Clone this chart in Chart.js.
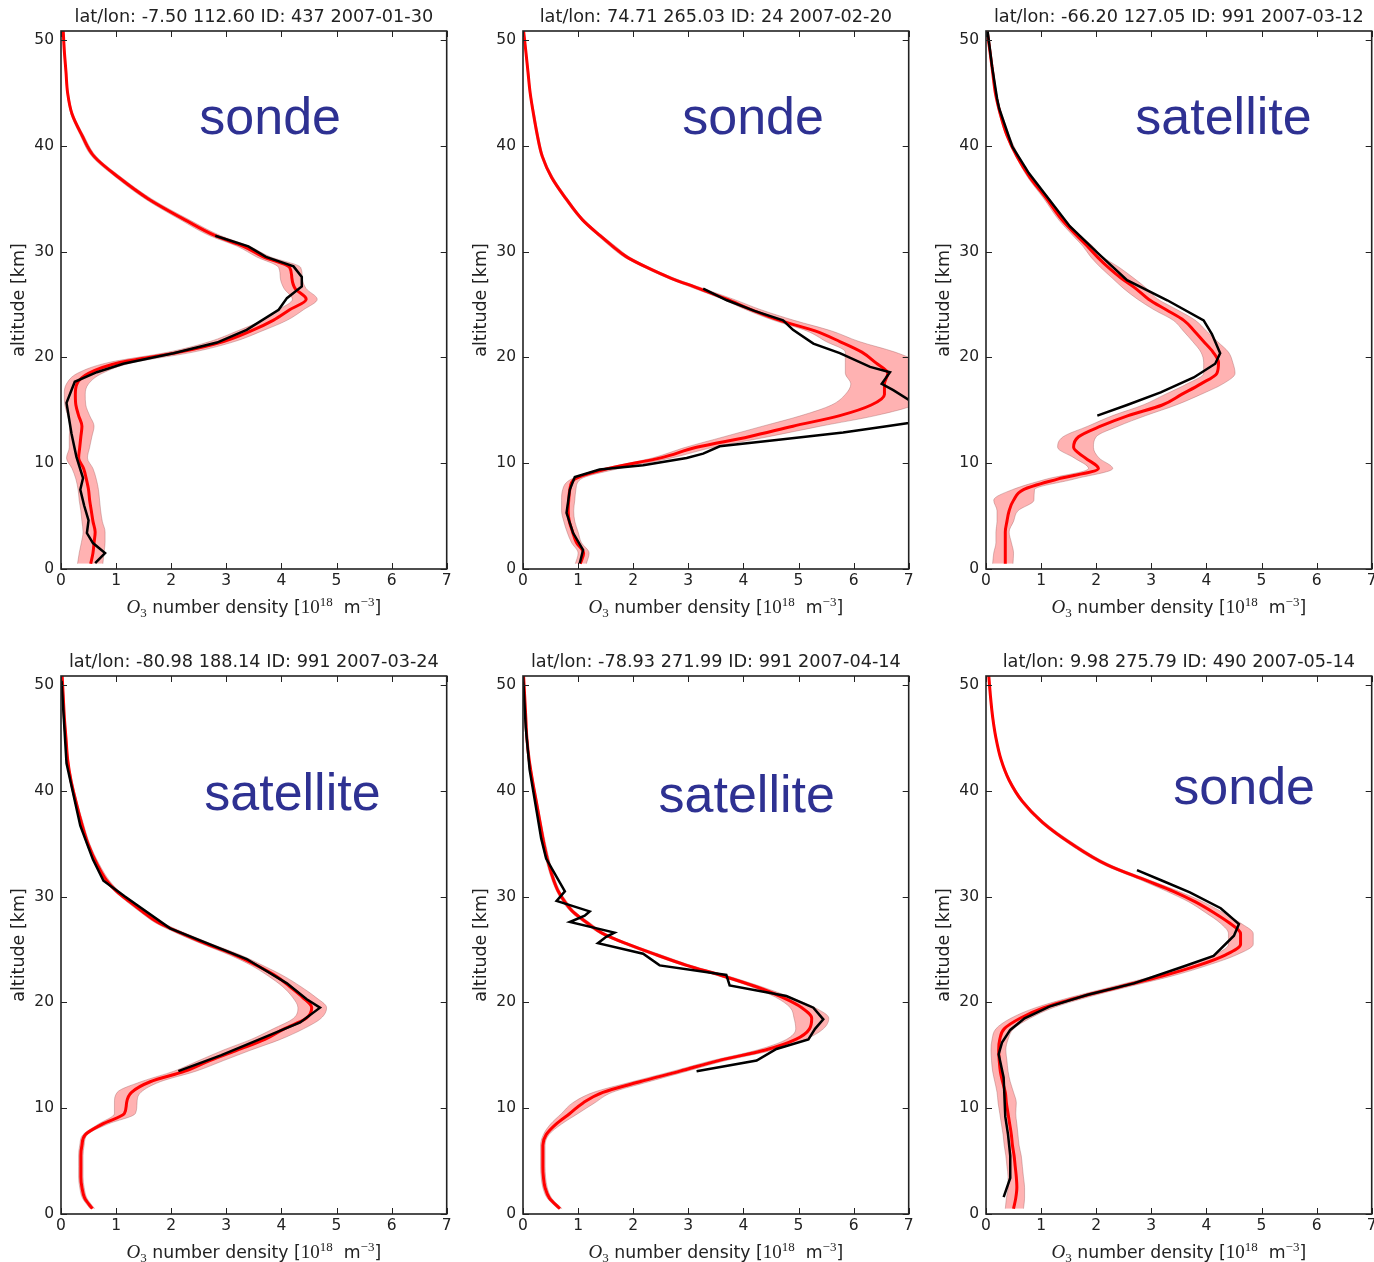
<!DOCTYPE html>
<html>
<head>
<meta charset="utf-8">
<script src="https://cdn.jsdelivr.net/npm/chart.js@4.4.1/dist/chart.umd.min.js"></script>
<style>
  html, body { margin: 0; padding: 0; background: #fff; overflow: hidden; width: 1374px; height: 1262px; position: relative; }
  canvas { position: absolute; }
</style>
</head>
<body>
<canvas id="c0" width="462" height="645" style="left:0px;top:0px"></canvas>
<canvas id="c1" width="462" height="645" style="left:462px;top:0px"></canvas>
<canvas id="c2" width="462" height="645" style="left:925px;top:0px"></canvas>
<canvas id="c3" width="462" height="645" style="left:0px;top:645px"></canvas>
<canvas id="c4" width="462" height="645" style="left:462px;top:645px"></canvas>
<canvas id="c5" width="462" height="645" style="left:925px;top:645px"></canvas>
<script>
// ========== DATA ==========
// altitude grid (km) shared by retrieved profile and its error band
const ALT = [0.5, 1.5, 2.5, 3.5, 4.5, 5.5, 6.5, 7.5, 8.5, 9.5, 10.5, 11.5, 12.5, 13.5, 14.5, 15.5, 16.5, 17.5,
  18.5, 19.5, 20.5, 21.5, 22.5, 23.5, 24.5, 25.5, 26.5, 27.5, 28.5, 29.5, 30.5, 31.5, 33, 35, 37, 39, 41, 43, 45, 47, 49, 50.9];

const TITLES = [
  'lat/lon: -7.50 112.60 ID: 437 2007-01-30',
  'lat/lon: 74.71 265.03 ID: 24 2007-02-20',
  'lat/lon: -66.20 127.05 ID: 991 2007-03-12',
  'lat/lon: -80.98 188.14 ID: 991 2007-03-24',
  'lat/lon: -78.93 271.99 ID: 991 2007-04-14',
  'lat/lon: 9.98 275.79 ID: 490 2007-05-14'
];
const TAGS = ['sonde', 'sonde', 'satellite', 'satellite', 'satellite', 'sonde'];
const TAG_X = [2.51, 2.89, 2.71, 2.60, 2.46, 3.40];
const TAG_ALT = [41.1, 41.1, 41.1, 38.2, 38.0, 38.75];

const X_TICKS = [0, 1, 2, 3, 4, 5, 6, 7];
const Y_TICKS = [0, 10, 20, 30, 40, 50];

// panel 1
const red1 = [0.54, 0.58, 0.60, 0.62, 0.58, 0.55, 0.52, 0.50, 0.46, 0.41, 0.32, 0.34, 0.36, 0.38, 0.32, 0.27, 0.26, 0.29,
  0.50, 1.05, 2.15, 2.95, 3.45, 3.85, 4.15, 4.45, 4.25, 4.19, 4.15, 3.67, 3.31, 2.80, 2.25, 1.58, 1.05, 0.60, 0.38, 0.20, 0.12, 0.09, 0.06, 0.04];
const lo1 = [0.30, 0.33, 0.37, 0.40, 0.38, 0.36, 0.33, 0.31, 0.27, 0.20, 0.10, 0.15, 0.15, 0.16, 0.12, 0.07, 0.06, 0.10,
  0.30, 0.85, 1.95, 2.70, 3.20, 3.65, 3.95, 4.20, 4.05, 3.98, 3.95, 3.55, 3.20, 2.70, 2.17, 1.52, 1.00, 0.56, 0.35, 0.18, 0.11, 0.08, 0.05, 0.03];
const hi1 = [0.76, 0.78, 0.80, 0.80, 0.75, 0.72, 0.70, 0.68, 0.64, 0.58, 0.48, 0.52, 0.56, 0.60, 0.52, 0.45, 0.44, 0.50,
  0.75, 1.30, 2.40, 3.15, 3.65, 4.10, 4.40, 4.65, 4.45, 4.38, 4.35, 3.80, 3.42, 2.90, 2.33, 1.64, 1.10, 0.64, 0.41, 0.22, 0.13, 0.10, 0.07, 0.05];
const refAlt1 = [0.55, 1.5, 2.45, 3.4, 4.6, 6.0, 7.5, 8.6, 10.6, 12.8, 15.7, 17.7, 18.6, 19.4, 20.4, 21.4, 22.6, 24.5, 25.6, 26.7, 27.6, 28.6, 29.5, 30.5, 31.5];
const ref1 = [0.62, 0.80, 0.58, 0.47, 0.50, 0.42, 0.35, 0.40, 0.28, 0.19, 0.10, 0.25, 0.65, 1.13, 2.04, 2.83, 3.37, 3.95, 4.10, 4.37, 4.37, 4.22, 3.72, 3.40, 2.80];

// panel 2
const red2 = [1.04, 1.10, 0.97, 0.90, 0.84, 0.82, 0.83, 0.85, 0.94, 1.55, 2.50, 3.15, 4.10, 4.90, 5.75, 6.32, 6.56, 6.56,
  6.62, 6.40, 6.15, 5.75, 5.30, 4.66, 4.15, 3.70, 3.20, 2.68, 2.25, 1.88, 1.63, 1.40, 1.08, 0.78, 0.52, 0.35, 0.26, 0.19, 0.13, 0.09, 0.05, 0.01];
const lo2 = [0.95, 1.00, 0.88, 0.80, 0.74, 0.70, 0.70, 0.72, 0.88, 1.48, 2.35, 2.95, 3.65, 4.35, 5.05, 5.60, 5.85, 5.95,
  5.85, 5.85, 5.85, 5.50, 5.15, 4.55, 4.05, 3.62, 3.12, 2.62, 2.20, 1.83, 1.58, 1.36, 1.05, 0.75, 0.50, 0.33, 0.24, 0.18, 0.12, 0.08, 0.04, 0.00];
const hi2 = [1.15, 1.20, 1.06, 1.00, 0.94, 0.92, 0.94, 0.96, 1.05, 1.75, 2.70, 3.45, 4.45, 5.40, 6.40, 7.10, 7.30, 7.40,
  7.40, 7.20, 6.75, 6.10, 5.60, 4.92, 4.32, 3.82, 3.28, 2.74, 2.30, 1.93, 1.68, 1.44, 1.11, 0.81, 0.55, 0.37, 0.28, 0.21, 0.14, 0.10, 0.06, 0.02];
const refAlt2 = [0.54, 1.8, 3.4, 5.3, 7.5, 8.7, 9.4, 9.8, 10.5, 10.9, 11.6, 12.2, 12.9, 13.5, 13.8, 14.6, 15.4, 16.0, 16.9, 17.5, 18.6, 19.1, 20.4, 21.3, 22.6, 23.5, 24.4, 25.4, 26.5];
const ref2 = [1.03, 1.09, 0.91, 0.79, 0.85, 0.94, 1.39, 2.18, 2.97, 3.27, 3.57, 4.60, 5.81, 6.60, 7.00, 7.60, 7.45, 7.00, 6.72, 6.51, 6.66, 6.30, 5.75, 5.27, 4.90, 4.72, 4.20, 3.70, 3.27];

// panel 3
const red3 = [0.35, 0.35, 0.35, 0.35, 0.38, 0.42, 0.50, 0.68, 1.30, 2.04, 1.80, 1.59, 1.68, 2.08, 2.58, 3.20, 3.55, 3.90,
  4.19, 4.22, 4.12, 3.95, 3.78, 3.59, 3.27, 2.95, 2.72, 2.45, 2.22, 2.02, 1.84, 1.65, 1.38, 1.10, 0.80, 0.56, 0.38, 0.26, 0.17, 0.12, 0.07, 0.02];
const lo3 = [0.12, 0.14, 0.18, 0.18, 0.20, 0.20, 0.14, 0.48, 1.10, 1.86, 1.60, 1.30, 1.40, 1.85, 2.30, 2.85, 3.25, 3.65,
  3.95, 3.95, 3.90, 3.75, 3.58, 3.40, 3.05, 2.75, 2.50, 2.29, 2.08, 1.90, 1.76, 1.58, 1.32, 1.05, 0.76, 0.54, 0.36, 0.24, 0.16, 0.11, 0.06, 0.01];
const hi3 = [0.49, 0.50, 0.46, 0.42, 0.50, 0.58, 0.87, 0.88, 1.60, 2.30, 2.05, 1.95, 2.00, 2.40, 2.90, 3.45, 3.90, 4.30,
  4.52, 4.48, 4.40, 4.20, 4.00, 3.80, 3.47, 3.12, 2.92, 2.68, 2.42, 2.12, 1.94, 1.72, 1.44, 1.15, 0.84, 0.60, 0.42, 0.29, 0.18, 0.13, 0.08, 0.03];
const refAlt3 = [14.5, 15.5, 16.7, 18.1, 19.4, 20.4, 22.2, 23.5, 25.4, 27.3, 29.9, 32.4, 34.9, 37.4, 39.9, 43.5, 44.5, 47.5, 50.8];
const ref3 = [2.02, 2.56, 3.17, 3.77, 4.16, 4.25, 4.10, 3.95, 3.29, 2.56, 2.02, 1.52, 1.15, 0.78, 0.48, 0.24, 0.20, 0.11, 0.03];

// panel 4
const red4 = [0.57, 0.43, 0.38, 0.36, 0.36, 0.36, 0.38, 0.44, 0.75, 1.15, 1.19, 1.28, 1.62, 2.25, 2.70, 3.20, 3.70, 4.05,
  4.45, 4.55, 4.38, 4.15, 3.90, 3.55, 3.15, 2.65, 2.20, 1.78, 1.50, 1.25, 1.01, 0.83, 0.66, 0.49, 0.37, 0.27, 0.18, 0.12, 0.09, 0.06, 0.04, 0.02];
const lo4 = [0.53, 0.39, 0.34, 0.32, 0.32, 0.32, 0.34, 0.40, 0.68, 0.97, 0.97, 1.02, 1.45, 2.05, 2.50, 2.95, 3.45, 3.85,
  4.22, 4.30, 4.20, 4.02, 3.76, 3.45, 3.05, 2.57, 2.12, 1.72, 1.45, 1.20, 0.97, 0.79, 0.63, 0.46, 0.35, 0.25, 0.16, 0.11, 0.08, 0.05, 0.03, 0.01];
const hi4 = [0.61, 0.47, 0.42, 0.40, 0.40, 0.40, 0.42, 0.48, 0.85, 1.35, 1.38, 1.45, 1.80, 2.45, 2.95, 3.45, 3.98, 4.40,
  4.72, 4.82, 4.62, 4.35, 4.04, 3.66, 3.25, 2.75, 2.28, 1.85, 1.56, 1.31, 1.06, 0.88, 0.70, 0.52, 0.40, 0.29, 0.20, 0.13, 0.10, 0.07, 0.05, 0.03];
const refAlt4 = [13.5, 15.0, 16.5, 18.1, 19.5, 20.3, 21.8, 24.1, 27.0, 30.0, 31.5, 33.5, 36.7, 42.6, 50.4];
const ref4 = [2.13, 2.90, 3.60, 4.34, 4.70, 4.46, 4.10, 3.37, 1.98, 1.16, 0.77, 0.58, 0.35, 0.10, 0.01];

// panel 5
const red5 = [0.67, 0.48, 0.40, 0.37, 0.36, 0.36, 0.36, 0.42, 0.60, 0.85, 1.09, 1.45, 2.12, 2.85, 3.55, 4.40, 4.95, 5.20,
  5.24, 5.06, 4.70, 4.22, 3.63, 2.97, 2.42, 1.90, 1.45, 1.17, 0.92, 0.76, 0.64, 0.56, 0.47, 0.38, 0.31, 0.24, 0.17, 0.11, 0.07, 0.05, 0.03, 0.01];
const lo5 = [0.63, 0.44, 0.36, 0.33, 0.32, 0.32, 0.32, 0.37, 0.50, 0.70, 0.90, 1.28, 1.98, 2.72, 3.43, 4.25, 4.78, 4.95,
  4.92, 4.85, 4.58, 4.13, 3.55, 2.90, 2.35, 1.84, 1.40, 1.12, 0.88, 0.72, 0.61, 0.53, 0.44, 0.35, 0.28, 0.22, 0.15, 0.10, 0.06, 0.04, 0.02, 0.00];
const hi5 = [0.71, 0.52, 0.44, 0.41, 0.40, 0.40, 0.40, 0.47, 0.70, 1.00, 1.30, 1.62, 2.28, 2.98, 3.68, 4.55, 5.12, 5.45,
  5.55, 5.30, 4.85, 4.32, 3.72, 3.05, 2.50, 1.96, 1.50, 1.22, 0.96, 0.80, 0.67, 0.59, 0.50, 0.41, 0.33, 0.26, 0.19, 0.12, 0.08, 0.06, 0.04, 0.02];
const refAlt5 = [13.5, 14.5, 15.6, 16.5, 17.5, 18.4, 19.5, 20.6, 21.6, 22.6, 23.5, 24.6, 25.6, 26.2, 26.6, 27.6, 28.2, 28.6, 29.6, 30.5, 33.6, 35.5, 38.0, 42.0, 46.0, 50.9];
const ref5 = [3.15, 4.24, 4.60, 5.18, 5.30, 5.45, 5.27, 4.78, 3.75, 3.69, 2.48, 2.18, 1.36, 1.51, 1.66, 0.85, 1.12, 1.21, 0.61, 0.76, 0.42, 0.33, 0.25, 0.12, 0.05, 0.00];

// panel 6
const red6 = [0.50, 0.54, 0.56, 0.55, 0.53, 0.51, 0.48, 0.46, 0.43, 0.40, 0.37, 0.35, 0.30, 0.26, 0.24, 0.23, 0.25, 0.33,
  0.62, 1.05, 1.70, 2.45, 3.20, 3.85, 4.35, 4.62, 4.62, 4.42, 4.13, 3.80, 3.40, 2.92, 2.20, 1.55, 1.03, 0.66, 0.42, 0.27, 0.18, 0.12, 0.08, 0.05];
const lo6 = [0.35, 0.37, 0.40, 0.40, 0.38, 0.36, 0.33, 0.31, 0.28, 0.25, 0.22, 0.20, 0.16, 0.12, 0.10, 0.09, 0.11, 0.18,
  0.45, 0.90, 1.55, 2.30, 3.05, 3.68, 4.15, 4.40, 4.40, 4.25, 3.98, 3.68, 3.28, 2.84, 2.14, 1.50, 0.99, 0.63, 0.40, 0.26, 0.17, 0.11, 0.07, 0.04];
const hi6 = [0.68, 0.70, 0.70, 0.68, 0.66, 0.64, 0.60, 0.58, 0.56, 0.54, 0.55, 0.50, 0.44, 0.40, 0.38, 0.36, 0.40, 0.50,
  0.80, 1.22, 1.85, 2.60, 3.38, 4.02, 4.55, 4.85, 4.85, 4.62, 4.30, 3.94, 3.50, 3.00, 2.26, 1.60, 1.07, 0.69, 0.44, 0.28, 0.19, 0.13, 0.09, 0.06];
const refAlt6 = [1.6, 3.4, 5.5, 7.5, 9.2, 12.9, 15.1, 16.2, 17.4, 18.5, 19.6, 20.7, 21.8, 23.3, 24.4, 26.3, 27.4, 28.9, 30.4, 31.5, 32.5];
const ref6 = [0.32, 0.44, 0.44, 0.40, 0.35, 0.32, 0.23, 0.29, 0.44, 0.70, 1.15, 1.83, 2.68, 3.53, 4.13, 4.50, 4.59, 4.26, 3.70, 3.20, 2.74];

const PANELS = [
  { red: red1, lo: lo1, hi: hi1, refAlt: refAlt1, ref: ref1 },
  { red: red2, lo: lo2, hi: hi2, refAlt: refAlt2, ref: ref2 },
  { red: red3, lo: lo3, hi: hi3, refAlt: refAlt3, ref: ref3 },
  { red: red4, lo: lo4, hi: hi4, refAlt: refAlt4, ref: ref4 },
  { red: red5, lo: lo5, hi: hi5, refAlt: refAlt5, ref: ref5 },
  { red: red6, lo: lo6, hi: hi6, refAlt: refAlt6, ref: ref6 }
];

// ========== PLUGINS ==========
const AXIS_COLOR = '#222';

// box around the plot with inward ticks on all four sides (matplotlib classic look)
const framePlugin = {
  id: 'frame',
  afterDatasetsDraw(chart) {
    const { ctx, chartArea: a, scales: { x, y } } = chart;
    const len = 6;
    ctx.save();
    ctx.strokeStyle = AXIS_COLOR;
    ctx.lineWidth = 1;
    ctx.beginPath();
    X_TICKS.forEach(v => {
      const px = Math.round(x.getPixelForValue(v)) + 0.5;
      ctx.moveTo(px, a.bottom); ctx.lineTo(px, a.bottom - len);
      ctx.moveTo(px, a.top); ctx.lineTo(px, a.top + len);
    });
    Y_TICKS.forEach(v => {
      const py = Math.round(y.getPixelForValue(v)) + 0.5;
      ctx.moveTo(a.left, py); ctx.lineTo(a.left + len, py);
      ctx.moveTo(a.right, py); ctx.lineTo(a.right - len, py);
    });
    ctx.stroke();
    ctx.lineWidth = 1.6;
    ctx.strokeRect(a.left, a.top, a.right - a.left, a.bottom - a.top);
    ctx.restore();
  }
};

// "sonde" / "satellite" tag inside each panel
const tagPlugin = {
  id: 'tag',
  afterDatasetsDraw(chart, args, opts) {
    const { ctx, scales: { x, y } } = chart;
    ctx.save();
    ctx.font = '52px "Liberation Sans", Arial, sans-serif';
    ctx.fillStyle = '#2e3192';
    ctx.textAlign = 'left';
    ctx.textBaseline = 'alphabetic';
    ctx.fillText(opts.text, x.getPixelForValue(opts.x), y.getPixelForValue(opts.alt));
    ctx.restore();
  }
};

// panel title centred over the plot box, x label with sub/superscripts
const textPlugin = {
  id: 'texts',
  afterDraw(chart, args, opts) {
    const { ctx, chartArea: a } = chart;
    const mid = (a.left + a.right) / 2;
    ctx.save();
    ctx.fillStyle = AXIS_COLOR;
    ctx.textBaseline = 'alphabetic';

    ctx.font = '17.7px "DejaVu Sans"';
    ctx.textAlign = 'center';
    ctx.fillText(opts.title, mid, a.top - 9);

    const sans = '17.3px "DejaVu Sans"';
    const parts = [
      { t: 'O', f: 'italic 19px "Liberation Serif"', dy: 0 },
      { t: '3', f: '13px "Liberation Serif"', dy: 4 },
      { t: ' number density [', f: sans, dy: 0 },
      { t: '10', f: '19px "Liberation Serif"', dy: 0 },
      { t: '18', f: '13px "Liberation Serif"', dy: -7.5 },
      { t: '  m', f: sans, dy: 0 },
      { t: '\u22123', f: '13px "Liberation Serif"', dy: -7.5 },
      { t: ']', f: sans, dy: 0 }
    ];
    ctx.textAlign = 'left';
    let total = 0;
    parts.forEach(p => { ctx.font = p.f; p.w = ctx.measureText(p.t).width; total += p.w; });
    let cx = mid - total / 2;
    const base = a.bottom + 44;
    parts.forEach(p => { ctx.font = p.f; ctx.fillText(p.t, cx, base + p.dy); cx += p.w; });
    ctx.restore();
  }
};

// ========== CHARTS ==========
const pts = (alts, vals) => vals.map((v, i) => ({ x: v, y: alts[i] }));
const tickFont = { family: 'DejaVu Sans', size: 15.5 };
const BAND_EDGE = 'rgba(150,80,80,0.45)';

function makeChart(i) {
  const p = PANELS[i];
  return new Chart(document.getElementById('c' + i), {
    type: 'line',
    data: {
      datasets: [
        { label: 'reference', data: pts(p.refAlt, p.ref), borderColor: '#000', borderWidth: 2.5, pointRadius: 0, fill: false, order: 0 },
        { label: 'retrieval', data: pts(ALT, p.red), borderColor: '#ff0000', borderWidth: 3, pointRadius: 0, fill: false, order: 1,
          cubicInterpolationMode: 'monotone' },
        { label: 'lower', data: pts(ALT, p.lo), borderColor: BAND_EDGE, borderWidth: 0.8, pointRadius: 0, fill: false, order: 2,
          cubicInterpolationMode: 'monotone' },
        { label: 'upper', data: pts(ALT, p.hi), borderColor: BAND_EDGE, borderWidth: 0.8, pointRadius: 0,
          backgroundColor: 'rgba(255,0,0,0.3)', fill: '-1', order: 3, cubicInterpolationMode: 'monotone' }
      ]
    },
    options: {
      indexAxis: 'y',
      responsive: false,
      animation: false,
      layout: { padding: { left: 0, right: 15.3, top: 31, bottom: 0 } },
      scales: {
        x: {
          type: 'linear', position: 'bottom', min: 0, max: 7,
          ticks: { stepSize: 1, includeBounds: false, padding: 3, color: AXIS_COLOR, font: tickFont, maxRotation: 0 },
          grid: { display: false, drawTicks: false },
          border: { display: false },
          afterFit: s => { s.height = 76; }
        },
        y: {
          type: 'linear', position: 'left', min: 0, max: 50.85,
          ticks: { stepSize: 10, includeBounds: false, padding: 7, color: AXIS_COLOR, font: tickFont },
          grid: { display: false, drawTicks: false },
          border: { display: false },
          title: { display: true, text: 'altitude [km]', color: AXIS_COLOR, font: { family: 'DejaVu Sans', size: 17.5 }, padding: { top: 8.5, bottom: 0 } },
          afterFit: s => { s.width = 61; }
        }
      },
      plugins: {
        legend: { display: false },
        tooltip: { enabled: false },
        title: { display: false },
        tag: { text: TAGS[i], x: TAG_X[i], alt: TAG_ALT[i] },
        texts: { title: TITLES[i] }
      }
    },
    plugins: [framePlugin, tagPlugin, textPlugin]
  });
}

PANELS.forEach((p, i) => makeChart(i));
</script>
</body>
</html>
